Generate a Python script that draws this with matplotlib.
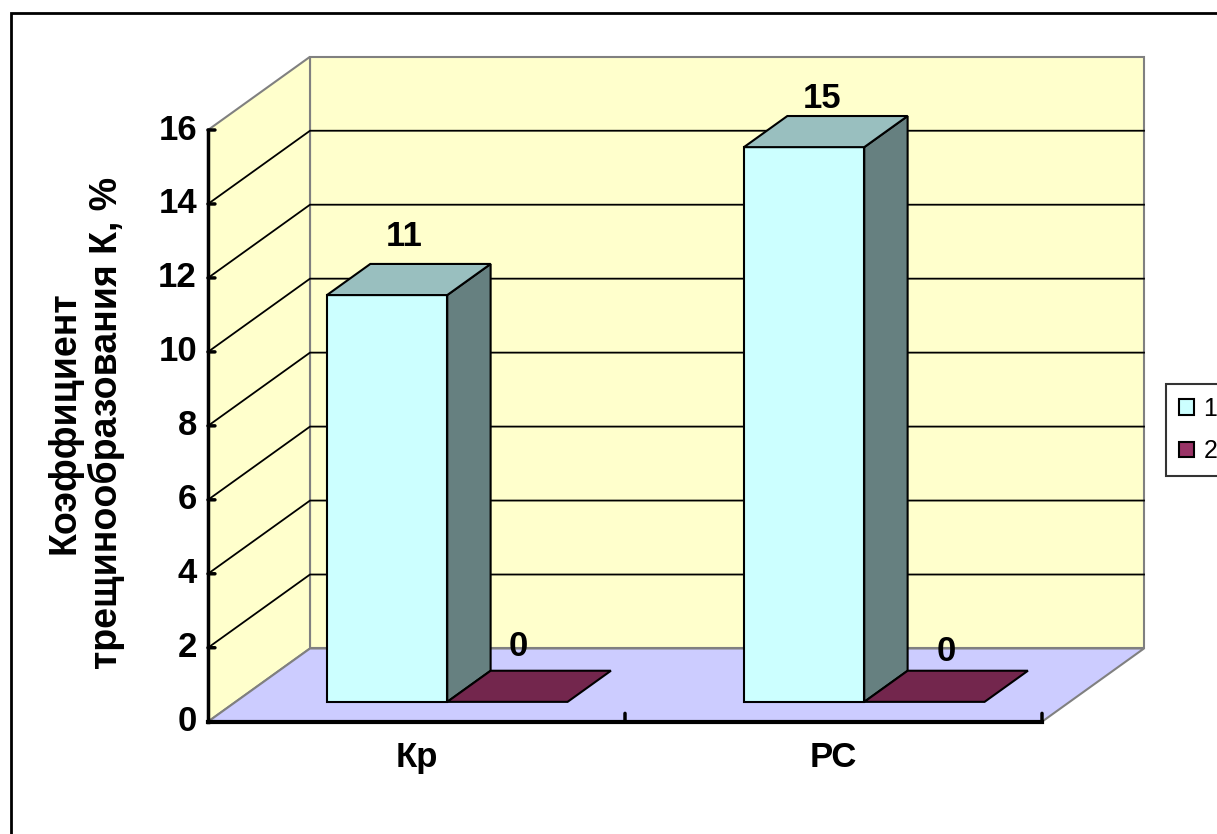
import matplotlib
matplotlib.use("Agg")
import matplotlib.pyplot as plt
from matplotlib.patches import Polygon, Patch, Rectangle

plt.rcParams['font.family'] = ['Liberation Sans', 'DejaVu Sans']

# --- data ---
categories = ["Кр", "РС"]
series_names = ["1", "2"]
series_values = [
    [11, 15],   # series 1
    [0, 0],     # series 2
]
y_ticks = [0, 2, 4, 6, 8, 10, 12, 14, 16]
y_label = "Коэффициент\nтрещинообразования К, %"

# --- styling ---
front_colors = ["#CCFFFF", "#993366"]
wall_color = "#FFFFCC"
floor_color = "#CCCCFF"
wall_edge = "#808080"
# small nudges (points) for the value labels, per category/series
label_nudge = [[(-3, 31), (-8, 29)], [(-3, 24), (0, 25)]]

# oblique depth offset (x in category units, y in value units)
DX = 102 / 417
DY = 1.98
BAR_D0, BAR_D1 = 0.271, 0.696   # bar depth span
BAR_LEFT, BAR_W = 0.219, 0.2885  # first bar start and width inside a category
YMAX = 16


def shade(hexcol, k):
    c = matplotlib.colors.to_rgb(hexcol)
    return tuple(v * k for v in c)


def proj(x, v, d):
    return (x + d * DX, v + d * DY)


W, H = 1217, 834
fig = plt.figure(figsize=(W / 100, H / 100), dpi=100)
fig.patch.set_facecolor("white")

ax = fig.add_axes([208 / W, (H - 721.7) / H, 834 / W, 591.7 / H])
ax.set_xlim(0, len(categories))
ax.set_ylim(0, YMAX)
ax.axis("off")

ncat = len(categories)


def face(pts, fc, ec="black", lw=1.5, z=1):
    ax.add_patch(Polygon([proj(*p) for p in pts], closed=True, facecolor=fc,
                         edgecolor=ec, linewidth=lw, clip_on=False, zorder=z,
                         joinstyle="miter"))


# walls and floor
face([(0, 0, 1), (ncat, 0, 1), (ncat, YMAX, 1), (0, YMAX, 1)], wall_color, wall_edge, 1.5, 0)
face([(0, 0, 0), (0, 0, 1), (0, YMAX, 1), (0, YMAX, 0)], wall_color, wall_edge, 1.5, 0)
face([(0, 0, 0), (ncat, 0, 0), (ncat, 0, 1), (0, 0, 1)], floor_color, wall_edge, 1.5, 0)

# gridlines on back and side wall
for v in y_ticks[1:-1]:
    xs, ys = zip(proj(0, v, 0), proj(0, v, 1), proj(ncat, v, 1))
    ax.plot(xs, ys, color="black", lw=1.3, clip_on=False, zorder=0.5)

# bars, left to right
for ci in range(ncat):
    for si, vals in enumerate(series_values):
        h = vals[ci]
        x0 = ci + BAR_LEFT + si * BAR_W
        x1 = x0 + BAR_W
        fc = front_colors[si]
        d0, d1 = BAR_D0, BAR_D1
        if h > 0:
            face([(x0, 0, d0), (x1, 0, d0), (x1, h, d0), (x0, h, d0)], fc, z=2)
            face([(x1, 0, d0), (x1, 0, d1), (x1, h, d1), (x1, h, d0)], shade(fc, 0.5), z=2)
        face([(x0, h, d0), (x1, h, d0), (x1, h, d1), (x0, h, d1)], shade(fc, 0.75), z=2)

        lx, ly = proj((x0 + x1) / 2, h, (d0 + d1) / 2)
        ax.annotate(str(h), (lx, ly), xytext=label_nudge[ci][si], textcoords="offset points",
                    ha="center", va="center", fontsize=25, fontweight="bold",
                    annotation_clip=False, zorder=5)

# value axis
ax.plot([0, 0], [0, YMAX], color="black", lw=2.5, clip_on=False, zorder=3,
        solid_capstyle="projecting")
for v in y_ticks:
    ax.annotate("", (0, v), xytext=(5, 0), textcoords="offset points",
                arrowprops=dict(arrowstyle="-", lw=2.5, color="black",
                                shrinkA=0, shrinkB=0), annotation_clip=False)
    ax.annotate(str(v), (0, v), xytext=(-8, 0), textcoords="offset points",
                ha="right", va="center", fontsize=25, fontweight="bold",
                annotation_clip=False)

# category axis
ax.plot([0, ncat], [0, 0], color="black", lw=3, clip_on=False, zorder=3,
        solid_capstyle="projecting")
for ci in range(1, ncat + 1):
    ax.annotate("", (ci, 0), xytext=(0, 6), textcoords="offset points",
                arrowprops=dict(arrowstyle="-", lw=2.5, color="black",
                                shrinkA=0, shrinkB=0), annotation_clip=False)
for ci, name in enumerate(categories):
    ax.annotate(name, (ci + 0.5, 0), xytext=(0, -26), textcoords="offset points",
                ha="center", va="center", fontsize=25, fontweight="bold",
                annotation_clip=False)

fig.text(86 / W, 1 - 423 / H, y_label, rotation=90, ha="center", va="center",
         multialignment="center", fontsize=27, fontweight="bold", linespacing=1.2)

# legend
handles = [Patch(facecolor=c, edgecolor="black", linewidth=1.5) for c in front_colors]
leg = ax.legend(handles, series_names, loc="upper left",
                bbox_to_anchor=(1166 / W, 1 - 384 / H), bbox_transform=fig.transFigure,
                fontsize=18, frameon=True, fancybox=False, edgecolor="black",
                handlelength=0.6, handleheight=0.6, handletextpad=0.4,
                labelspacing=0.75, borderpad=0.5, borderaxespad=0)
leg.get_frame().set_linewidth(1.5)

# chart area border
fig.add_artist(Rectangle((11 / W, -0.1), 2, 1 - 13 / H + 0.1, transform=fig.transFigure,
                         fill=False, edgecolor="black", linewidth=2))

fig.savefig("out.png", dpi=100)
